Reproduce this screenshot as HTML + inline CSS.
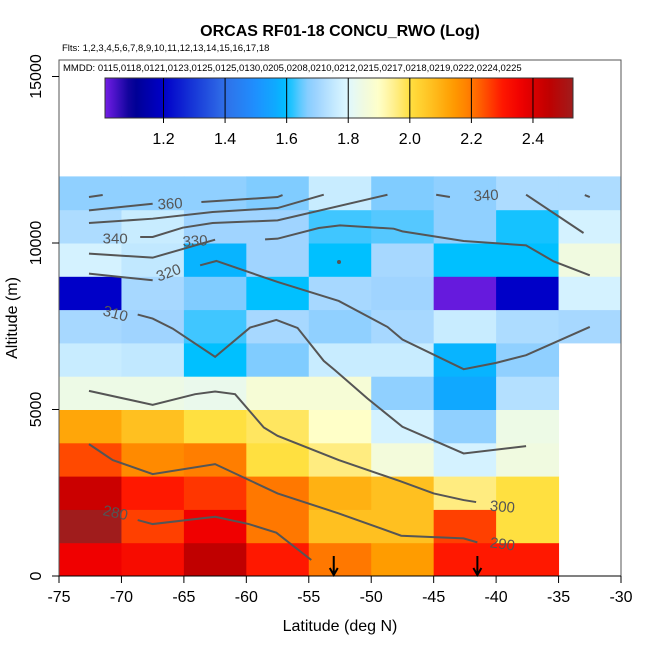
<!DOCTYPE html>
<html><head><meta charset="utf-8"><style>
body{margin:0;background:#fff}
svg{display:block;font-family:"Liberation Sans",sans-serif}
</style></head><body>
<svg id="chart" width="650" height="650" viewBox="0 0 650 650">
<text x="340" y="36" text-anchor="middle" font-size="16" font-weight="bold">ORCAS RF01-18 CONCU_RWO (Log)</text>
<text x="62" y="51" font-size="9.5">Flts: 1,2,3,4,5,6,7,8,9,10,11,12,13,14,15,16,17,18</text>
<g id="heat"></g>
<g id="contours"></g>
<g id="cbar"></g>
<rect x="59" y="60" width="562" height="516" fill="none" stroke="#555" stroke-width="1"/>
<text x="63" y="71" font-size="9.5">MMDD: 0115,0118,0121,0123,0125,0125,0130,0205,0208,0210,0212,0215,0217,0218,0219,0222,0224,0225</text>
<g id="axes"></g>
<text x="340" y="631" text-anchor="middle" font-size="16">Latitude (deg N)</text>
<text transform="translate(17,318) rotate(-90)" text-anchor="middle" font-size="16">Altitude (m)</text>
</svg>
<script>
const lats=[-75,-70,-65,-60,-55,-50,-45,-40,-35];
const alts=[0,1000,2000,3000,4000,5000,6000,7000,8000,9000,10000,11000];
// rows bottom (0-1000m) to top (11000-12000m); null = no data
const cellValues=[
[2.36,2.33,2.45,2.30,2.20,2.14,2.30,2.30,null],
[2.53,2.26,2.36,2.20,2.07,2.07,2.26,2.00,null],
[2.43,2.30,2.27,2.20,2.10,2.07,1.96,2.00,null],
[2.25,2.17,2.19,2.00,1.96,1.86,1.78,1.85,null],
[2.12,2.07,2.00,1.98,1.90,1.78,1.68,1.84,null],
[1.84,1.84,1.83,1.87,1.87,1.68,1.56,1.73,null],
[1.76,1.75,1.60,1.66,1.76,1.76,1.58,1.68,null],
[1.71,1.70,1.63,1.71,1.68,1.71,1.76,1.72,1.71],
[1.20,1.71,1.66,1.60,1.71,1.70,1.02,1.20,1.78],
[1.78,1.75,1.58,1.70,1.60,1.71,1.60,1.60,1.85],
[1.72,1.76,1.70,1.70,1.63,1.64,1.68,1.61,1.78],
[1.68,1.68,1.68,1.66,1.76,1.66,1.68,1.72,1.72]];
const cbarTicks=[1.2,1.4,1.6,1.8,2.0,2.2,2.4];
const xTicks=[-75,-70,-65,-60,-55,-50,-45,-40,-35,-30];
const yTicks=[0,5000,10000,15000];
const arrowLats=[-53,-41.5];
const contourLines=[
 [[-72.6,11380],[-71.5,11440]],
 [[-72.6,10980],[-67.5,11180]],
 [[-63.6,11230],[-57.5,11380],[-57.1,11440]],
 [[-72.6,10600],[-67.5,10730],[-62.7,10930],[-57.5,11050],[-53.8,11450]],
 [[-68.5,10180],[-67.5,10180],[-65.1,10460],[-62.7,10600],[-57.5,10680],[-48.7,11450]],
 [[-44.8,11450],[-43.7,11380]],
 [[-37.6,11450],[-33.0,10300]],
 [[-32.9,11440],[-32.5,11380]],
 [[-72.6,9680],[-67.5,9560],[-62.5,10100]],
 [[-58.5,10110],[-57.5,10130],[-54.2,10450],[-52.5,10530],[-48.2,10430],[-47.5,10350],[-42.6,10060],[-37.6,9930],[-35.4,9450],[-32.5,9030]],
 [[-72.6,9080],[-67.5,8880]],
 [[-63.7,9330],[-62.4,9460],[-57.5,8830],[-52.6,8260],[-48.7,7480],[-47.5,7100],[-42.6,6210],[-40.0,6400],[-37.6,6630],[-32.5,7480]],
 [[-68.7,7850],[-67.5,7730],[-65.9,7430],[-62.5,6580],[-59.7,7460],[-57.6,7690],[-55.9,7450],[-53.8,6460],[-52.9,6180],[-50.3,5330],[-47.5,4480],[-42.6,3680],[-37.6,3900]],
 [[-72.6,5560],[-67.5,5140],[-64.1,5460],[-62.5,5540],[-60.9,5460],[-58.6,4460],[-57.5,4210],[-52.6,3480],[-47.7,2850],[-45.0,2480],[-42.6,2280],[-41.6,2220]],
 [[-72.6,3960],[-70.7,3480],[-67.5,3060],[-62.5,3360],[-57.5,2480],[-52.6,1880],[-47.6,1210],[-42.6,1130],[-41.5,1010]],
 [[-68.7,1680],[-67.5,1560],[-62.5,1780],[-59.8,1560],[-57.6,1300],[-54.8,480]]];
const contourLabels=[["360",-66.1,11150,-3],["340",-70.5,10100,0],["330",-64.1,10030,-3],["320",-66.2,9080,-20],["310",-70.5,7850,15],["340",-40.8,11400,-3],["300",-39.5,2050,5],["290",-39.5,930,8],["280",-70.5,1870,12]];

const NS='http://www.w3.org/2000/svg';
const X=v=>59+(v+75)*562/45;
const Y=v=>576-v*0.0333;
const stops=[[1.0,[128,32,240]],[1.1,[0,0,144]],[1.2,[0,0,200]],[1.4,[48,112,232]],[1.5,[30,144,255]],[1.56,[16,168,255]],[1.6,[0,192,255]],[1.66,[128,204,255]],[1.7,[160,212,255]],[1.76,[200,236,255]],[1.8,[224,248,255]],[1.85,[240,250,224]],[1.9,[255,255,200]],[1.96,[255,236,128]],[2.0,[255,224,64]],[2.07,[255,192,32]],[2.14,[255,156,0]],[2.2,[255,120,0]],[2.26,[255,64,0]],[2.3,[255,24,0]],[2.36,[240,0,0]],[2.45,[192,0,0]],[2.53,[160,28,28]]];
function cmap(v){
 if(v<=stops[0][0])return 'rgb('+stops[0][1]+')';
 for(let i=1;i<stops.length;i++){if(v<=stops[i][0]){const a=stops[i-1],b=stops[i],t=(v-a[0])/(b[0]-a[0]);return 'rgb('+a[1].map((c,k)=>Math.round(c+(b[1][k]-c)*t)).join(',')+')';}}
 return 'rgb('+stops[stops.length-1][1]+')';
}
function mk(tag,attrs,parent){const e=document.createElementNS(NS,tag);for(const k in attrs)e.setAttribute(k,attrs[k]);parent.appendChild(e);return e;}
const heat=document.getElementById('heat');
cellValues.forEach((row,r)=>row.forEach((v,c)=>{
 if(v===null)return;
 const x0=X(lats[c]),x1=X(lats[c]+5),y0=Y(alts[r]+1000),y1=Y(alts[r]);
 const el=mk('rect',{x:x0,y:y0,width:x1-x0+0.5,height:y1-y0+0.5,fill:cmap(v)},heat);
 
 
}));
const cg=document.getElementById('contours');
contourLines.forEach(line=>{
 const el=mk('polyline',{points:line.map(p=>X(p[0])+','+Y(p[1])).join(' '),fill:'none',stroke:'#555','stroke-width':2},cg);
 
 
});
mk('circle',{cx:339,cy:262,r:2,fill:'#555'},cg);
contourLabels.forEach(l=>{
 const x=X(l[1]),y=Y(l[2]);
 const el=mk('text',{x:x,y:y,'font-size':15,fill:'#555','text-anchor':'middle','dominant-baseline':'middle',transform:'rotate('+l[3]+' '+x+' '+y+')'},cg);
 el.textContent=l[0];
 
 
});
arrowLats.forEach(a=>{
 const x=X(a);
 const el=mk('path',{d:'M'+x+' 556 V575 M'+(x-4)+' 568 L'+x+' 575 L'+(x+4)+' 568',stroke:'#000','stroke-width':2,fill:'none'},cg);
 
 
});
const cb=document.getElementById('cbar');
const cmin=1.01,cmax=2.53,cx0=105,cx1=573;
const CX=v=>cx0+(v-cmin)/(cmax-cmin)*(cx1-cx0);
const defs=mk('defs',{},cb);
const grad=mk('linearGradient',{id:'cg',x1:0,x2:1,y1:0,y2:0},defs);
for(let i=0;i<=60;i++){const v=cmin+(cmax-cmin)*i/60;mk('stop',{offset:i/60,'stop-color':cmap(v)},grad);}
mk('rect',{x:cx0,y:78,width:cx1-cx0,height:40,fill:'url(#cg)',stroke:'#333'},cb);
cbarTicks.forEach(t=>{
 const x=CX(t);
 mk('line',{x1:x,x2:x,y1:78,y2:123,stroke:'#000','stroke-width':1},cb);
 const el=mk('text',{x:x,y:144,'font-size':16,'text-anchor':'middle'},cb);
 el.textContent=t.toFixed(1);
 
 
});
const ax=document.getElementById('axes');
mk('line',{x1:59,x2:621,y1:576,y2:576,stroke:'#000'},ax);
xTicks.forEach(t=>{
 const x=X(t);
 mk('line',{x1:x,x2:x,y1:576,y2:583,stroke:'#000'},ax);
 const el=mk('text',{x:x,y:602,'font-size':16,'text-anchor':'middle'},ax);
 el.textContent=t;
 
 
});
yTicks.forEach(t=>{
 const y=Y(t);
 mk('line',{x1:52,x2:59,y1:y,y2:y,stroke:'#000'},ax);
 const el=mk('text',{x:0,y:0,'font-size':16,'text-anchor':'middle',transform:'translate(41,'+y+') rotate(-90)'},ax);
 el.textContent=t;
 
 
});
</script>
</body></html>
